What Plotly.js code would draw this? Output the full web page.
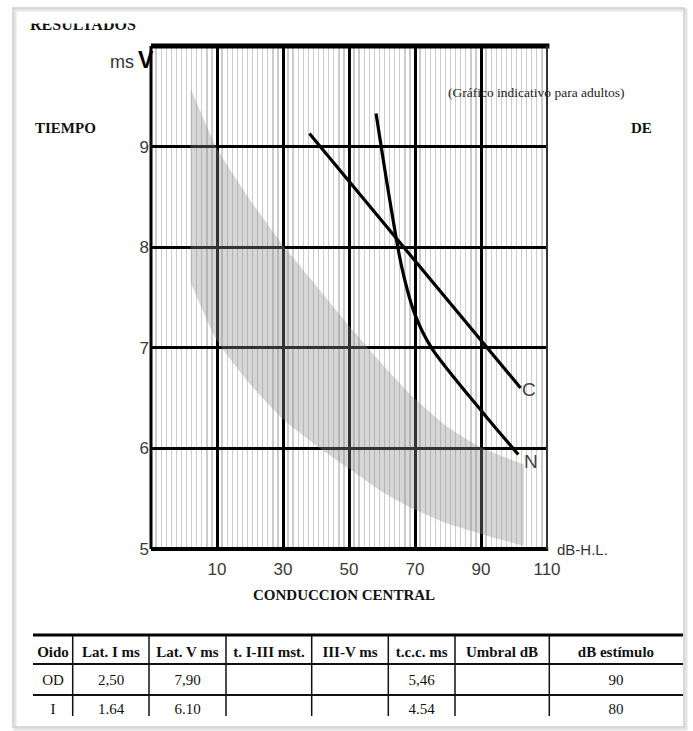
<!DOCTYPE html>
<html><head><meta charset="utf-8">
<script src="https://cdn.plot.ly/plotly-3.0.1.min.js"></script>
<style>html,body{margin:0;padding:0;background:#fff;}#chart{width:693px;height:731px;}</style>
</head><body><div id="chart"></div>
<script>
// ---------- data ----------
const xTickVals = [10, 30, 50, 70, 90, 110];
const xTickText = ["10", "30", "50", "70", "90", "110"];
const yTickVals = [5, 6, 7, 8, 9];
const yTickText = ["5", "6", "7", "8", "9"];

// normal (grey) band for adults
const bandX     = [2,    10,   20,   30,   40,   50,   60,   70,   80,   90,   103];
const bandUpper = [9.58, 8.98, 8.47, 8.02, 7.62, 7.22, 6.84, 6.49, 6.21, 6.01, 5.84];
const bandLower = [7.65, 7.07, 6.64, 6.29, 6.03, 5.80, 5.57, 5.39, 5.25, 5.15, 5.03];

// curve C (straight line)
const cX = [38, 102];
const cY = [9.13, 6.60];
// curve N
const nX = [58.2, 62.2, 66, 70, 75, 90.7, 101.3];
const nY = [9.33, 8.5, 7.8, 7.33, 7.0, 6.35, 5.94];

// results table
const tableHeader = ["Oido", "Lat. I ms", "Lat. V ms", "t. I-III mst.", "III-V ms", "t.c.c. ms", "Umbral dB", "dB estímulo"];
const rowOD = ["OD", "2,50", "7,90", "", "", "5,46", "", "90"];
const rowI  = ["I", "1.64", "6.10", "", "", "4.54", "", "80"];

// ---------- layout helpers (page pixels) ----------
const W = 693, H = 731;
const px = x => x / W;
const py = y => 1 - y / H;
const SERIF = "Liberation Serif, Times New Roman, serif";
const SANS = "Liberation Sans Narrow, Liberation Sans, Arial, sans-serif";

const colCenters = [53, 111, 187.5, 269, 350, 421.7, 502, 616];
const colSeps = [72.7, 149, 226, 311.7, 388.3, 455, 549.3];
const rowYs = [653, 681, 710];

const traces = [];
// band
traces.push({x: bandX, y: bandLower, mode: "lines", line: {width: 0, shape: "spline", smoothing: 0.5},
  hoverinfo: "skip", showlegend: false, xaxis: "x", yaxis: "y"});
traces.push({x: bandX, y: bandUpper, mode: "lines", line: {width: 0, shape: "spline", smoothing: 0.5},
  fill: "tonexty", fillcolor: "rgba(140,140,140,0.36)", hoverinfo: "skip", showlegend: false, xaxis: "x", yaxis: "y"});
// C and N
traces.push({x: cX, y: cY, mode: "lines", line: {color: "#000", width: 3.2}, hoverinfo: "skip", showlegend: false});
traces.push({x: nX, y: nY, mode: "lines", line: {color: "#000", width: 3.2, shape: "spline", smoothing: 0.8}, hoverinfo: "skip", showlegend: false});

// clipped title (top part cut off)
traces.push({x: [30], y: [26], mode: "text", text: ["RESULTADOS"], textposition: "middle right",
  textfont: {family: SERIF, size: 16, color: "#111", weight: "bold"}, cliponaxis: true,
  hoverinfo: "skip", showlegend: false, xaxis: "x2", yaxis: "y2"});

// table text (clipped at bottom)
const rows = [tableHeader, rowOD, rowI];
rows.forEach((r, i) => {
  traces.push({x: colCenters, y: colCenters.map(() => rowYs[i]), mode: "text", text: r, textposition: "middle center",
    textfont: {family: SERIF, size: 15, color: "#111", weight: i === 0 ? "bold" : "normal"},
    cliponaxis: true, hoverinfo: "skip", showlegend: false, xaxis: "x3", yaxis: "y3"});
});

const shapes = [];
// frame of the picture
shapes.push({type: "rect", xref: "paper", yref: "paper", x0: px(15), x1: px(686), y0: py(729), y1: py(10),
  line: {color: "#e4e4e4", width: 3}, layer: "below"});
shapes.push({type: "rect", xref: "paper", yref: "paper", x0: px(13), x1: px(684), y0: py(727), y1: py(8),
  line: {color: "#cdcdcd", width: 1.5}, layer: "below"});
// plot borders
shapes.push({type: "line", xref: "x domain", yref: "y domain", x0: 0, x1: 1.006, y0: 1, y1: 1, line: {color: "#000", width: 5}});
shapes.push({type: "line", xref: "x domain", yref: "y domain", x0: 0, x1: 1.003, y0: 0, y1: 0, line: {color: "#000", width: 4}});
shapes.push({type: "line", xref: "x domain", yref: "y domain", x0: 0, x1: 0, y0: 0, y1: 1, line: {color: "#000", width: 3}});
shapes.push({type: "line", xref: "x domain", yref: "y domain", x0: 1, x1: 1, y0: 0, y1: 1, line: {color: "#333", width: 2}});
// table lines
shapes.push({type: "line", xref: "x3", yref: "y3", x0: 33, x1: 683, y0: 635, y1: 635, line: {color: "#000", width: 3}});
shapes.push({type: "line", xref: "x3", yref: "y3", x0: 33, x1: 683, y0: 664, y1: 664, line: {color: "#111", width: 2}});
shapes.push({type: "line", xref: "x3", yref: "y3", x0: 33, x1: 683, y0: 695, y1: 695, line: {color: "#111", width: 2}});
colSeps.forEach(s => shapes.push({type: "line", xref: "x3", yref: "y3", x0: s, x1: s, y0: 636, y1: 716, line: {color: "#111", width: 1.5}}));

const ann = [];
const A = (o) => ann.push(Object.assign({showarrow: false, xref: "paper", yref: "paper"}, o));
A({x: px(33), y: py(128), xanchor: "left", yanchor: "middle", text: "<b>TIEMPO</b>", font: {family: SERIF, size: 15, color: "#111"}});
A({x: px(629), y: py(128), xanchor: "left", yanchor: "middle", text: "<b>DE</b>", font: {family: SERIF, size: 15, color: "#111"}});
A({x: px(136), y: py(62), xanchor: "right", yanchor: "middle", text: "ms", font: {family: SANS, size: 18, color: "#333"}});
A({x: px(136), y: py(60), xanchor: "left", yanchor: "middle", text: "<b>V</b>", font: {family: "Liberation Sans, Arial, sans-serif", size: 23, color: "#000"}});
A({x: px(536), y: py(93), xanchor: "center", yanchor: "middle", text: "(Gráfico indicativo para adultos)", font: {family: SERIF, size: 13.5, color: "#222"}});
A({x: px(344), y: py(595), xanchor: "center", yanchor: "middle", text: "<b>CONDUCCION CENTRAL</b>", font: {family: SERIF, size: 15, color: "#111"}});
A({x: px(555), y: py(549), xanchor: "left", yanchor: "middle", text: "dB-H.L.", font: {family: SANS, size: 15, color: "#333"}});
ann.push({x: 104.5, y: 6.59, xref: "x", yref: "y", showarrow: false, text: "C", font: {family: SANS, size: 19, color: "#444"}});
ann.push({x: 105.2, y: 5.87, xref: "x", yref: "y", showarrow: false, text: "N", font: {family: SANS, size: 19, color: "#444"}});

const layout = {
  width: W, height: H,
  margin: {l: 0, r: 0, t: 0, b: 0, pad: 0},
  paper_bgcolor: "#fff", plot_bgcolor: "#fff",
  showlegend: false,
  xaxis: {
    domain: [px(151), px(547)], range: [-10, 110], anchor: "y",
    tickmode: "array", tickvals: xTickVals, ticktext: xTickText, ticks: "",
    showgrid: true, gridcolor: "#000", gridwidth: 3, zeroline: false, showline: false,
    tickfont: {family: SANS, size: 17, color: "#3a3a3a"}, ticklabelstandoff: 8,
    minor: {tickmode: "linear", tick0: -10, dtick: 20 / 13, showgrid: true, gridcolor: "#cccccc", gridwidth: 1.3, ticks: ""},
    fixedrange: true
  },
  yaxis: {
    domain: [py(549), py(46)], range: [5, 10], anchor: "x",
    tickmode: "array", tickvals: yTickVals, ticktext: yTickText, ticks: "",
    showgrid: true, gridcolor: "#000", gridwidth: 3, zeroline: false, showline: false,
    tickfont: {family: SANS, size: 17, color: "#3a3a3a"}, ticklabelstandoff: 1,
    fixedrange: true
  },
  xaxis2: {domain: [0, 1], range: [0, W], visible: false, anchor: "y2", fixedrange: true},
  yaxis2: {domain: [py(45), py(23.5)], range: [45, 23.5], visible: false, anchor: "x2", fixedrange: true},
  xaxis3: {domain: [0, 1], range: [0, W], visible: false, anchor: "y3", fixedrange: true},
  yaxis3: {domain: [py(716), py(620)], range: [716, 620], visible: false, anchor: "x3", fixedrange: true},
  shapes: shapes,
  annotations: ann
};

Plotly.newPlot("chart", traces, layout, {displayModeBar: false, staticPlot: true});
</script>
</body></html>
